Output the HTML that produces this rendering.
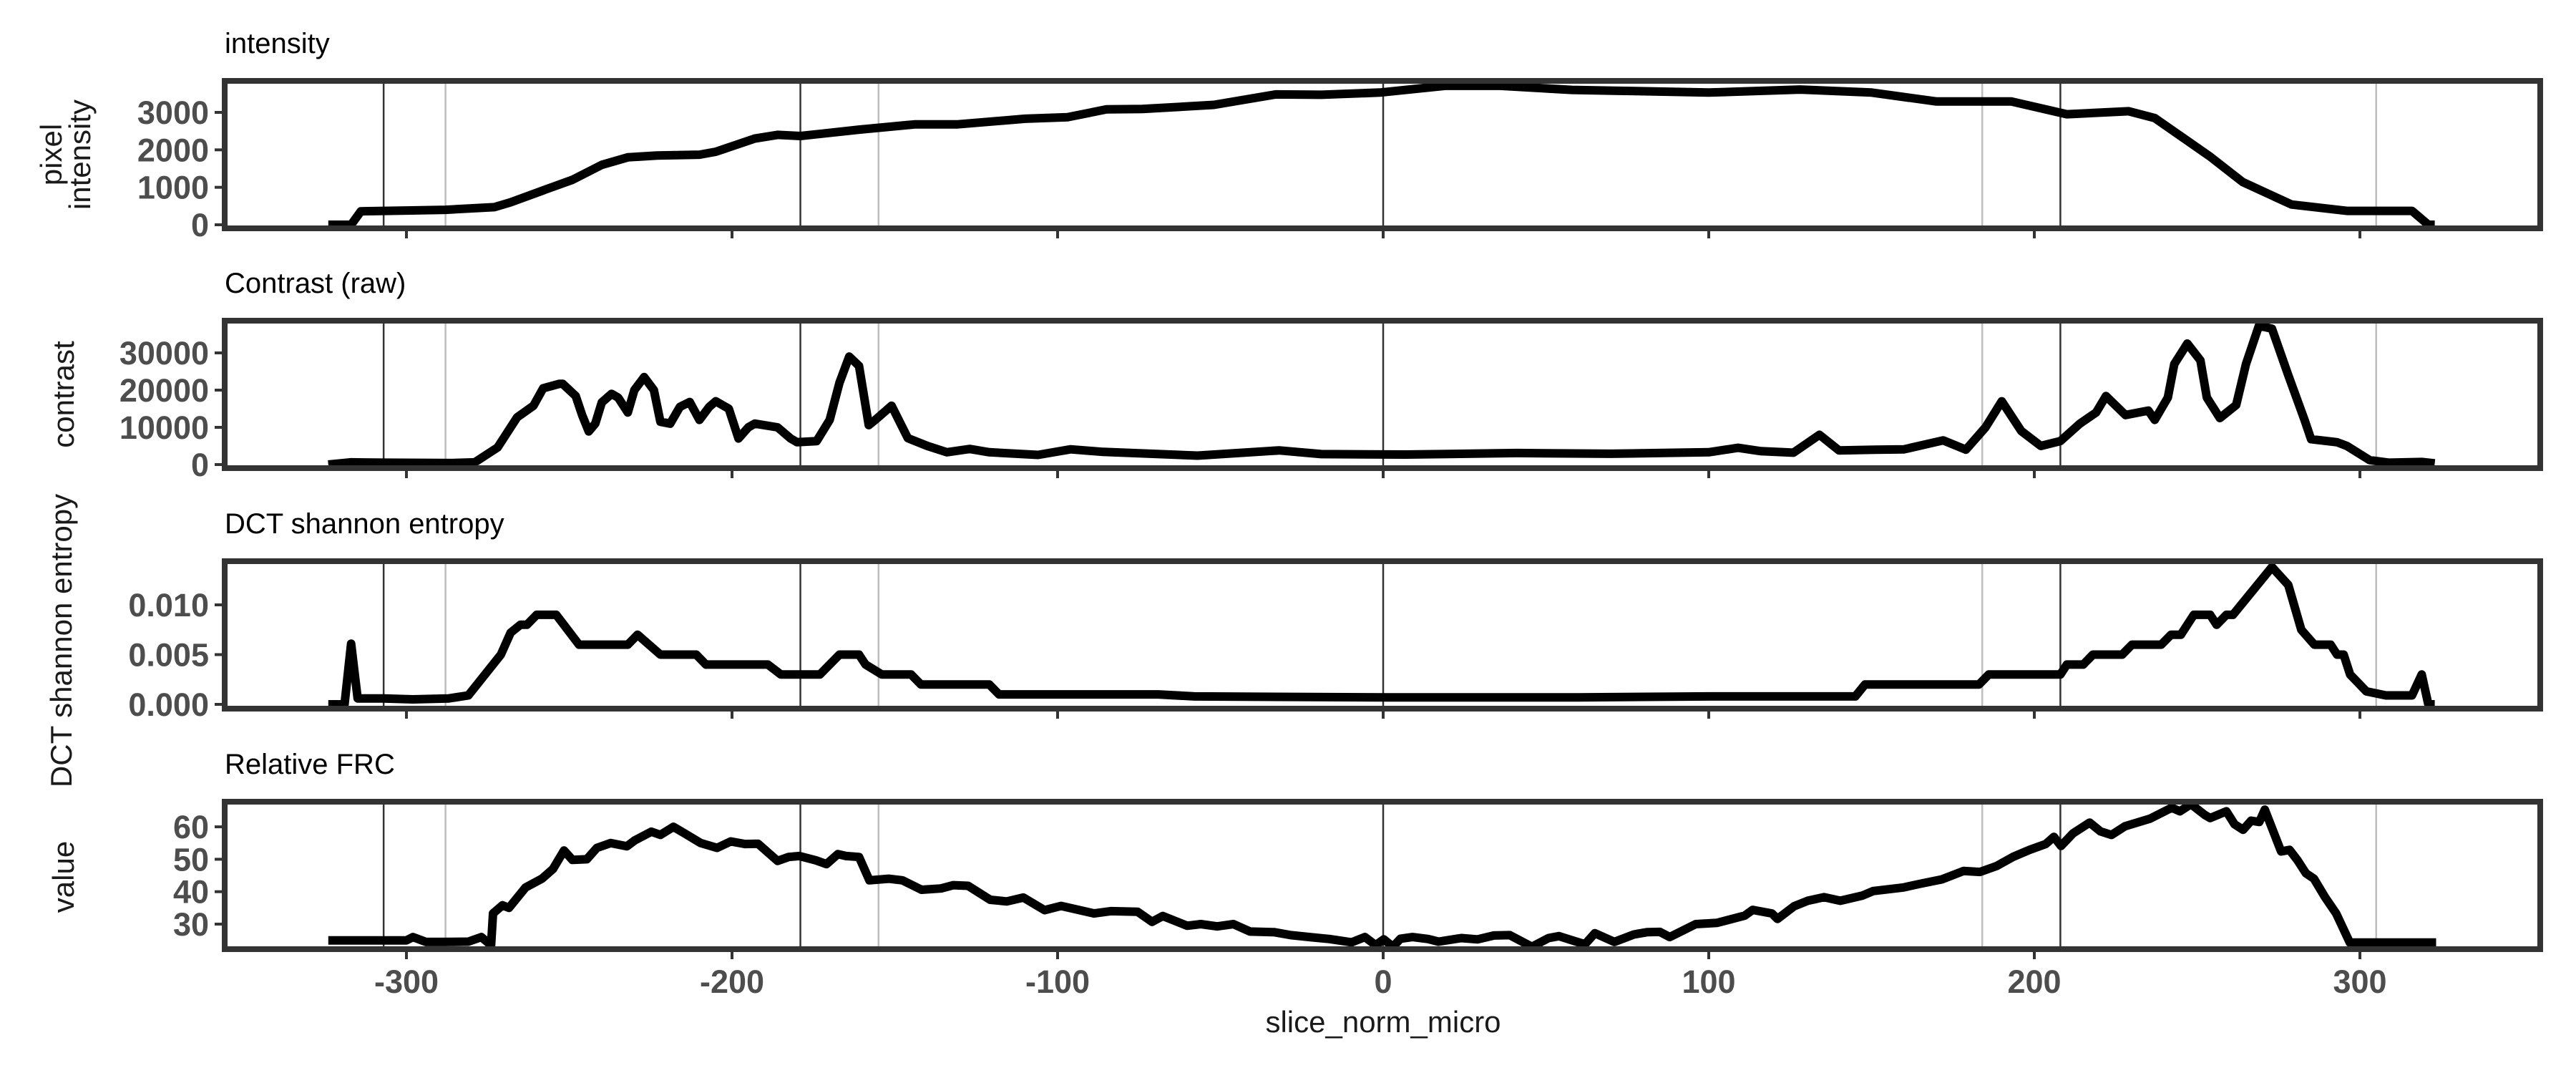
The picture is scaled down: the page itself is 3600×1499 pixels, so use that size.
<!DOCTYPE html>
<html><head><meta charset="utf-8"><style>
html,body{margin:0;padding:0;background:#fff;}
svg{display:block;}
text{font-family:"Liberation Sans",sans-serif;}
</style></head><body>
<svg id="chart" width="3600" height="1499" viewBox="0 0 3600 1499" xmlns="http://www.w3.org/2000/svg">
<rect width="3600" height="1499" fill="#fff"/>
<g id="layer"></g>
</svg>
<script>
// ---- data ----
const xTicks = [-300,-200,-100,0,100,200,300];
const darkLines = [-307,-179,0,208];
const greyLines = [-288,-155,184,305];
const intenX = [-324,-317,-314,-300,-288,-273,-268,-257,-249,-240,-232,-223,-210,-205,-193,-186,-179,-161,-144,-131,-110,-97,-85,-74,-52,-33,-19,-1,19,36,58,71,100,128,150,170,193,210,229,237,254,264,279,296,316,321,323];
const intenY = [0,0,360,380,400,470,600,950,1200,1600,1800,1850,1870,1950,2300,2400,2370,2540,2680,2680,2830,2870,3080,3090,3200,3480,3470,3530,3710,3710,3600,3580,3530,3610,3530,3290,3290,2950,3030,2850,1820,1140,540,370,370,0,0];
const contX = [-324,-317,-307,-286,-279,-272,-266,-261,-258,-253,-252,-248,-246,-244,-242,-240,-237,-235,-232,-230,-227,-224,-222,-219,-216,-213,-210,-207,-205,-201,-198,-195,-193,-186,-182,-180,-174,-170,-167,-164,-161,-158,-156,-151,-146,-140,-134,-127,-121,-106,-96,-86,-57,-32,-19,7,41,70,100,109,116,126,134,140,151,160,172,179,185,190,196,202,208,214,219,222,228,235,237,241,243,247,251,253,257,262,265,269,273,278,283,285,293,296,303,309,319,323];
const contY = [0,600,500,400,600,4600,12700,15800,20500,21700,21700,18400,13200,8900,11000,16700,19000,18000,14000,20000,23500,20000,11500,11000,15500,16800,12000,15500,17000,15000,7000,10000,11000,10000,7000,6000,6300,12000,22000,29000,26500,10600,12000,15800,7100,5000,3300,4200,3300,2600,4100,3400,2400,3800,2800,2700,3100,2900,3300,4500,3600,3200,8000,3800,4000,4100,6500,4000,10000,17000,9000,5000,6300,11000,14000,18400,13300,14500,12000,18000,27000,32500,28000,18000,12500,16000,27000,37300,36500,24000,12000,6800,6000,5000,1200,500,700,300];
const entX = [-324,-319,-317,-315,-307,-298,-287,-281,-271,-268,-265,-263,-260,-254,-247,-232,-229,-222,-211,-208,-189,-185,-173,-167,-161,-159,-154,-145,-142,-121,-118,-69,-58,0,60,100,145,148,183,186,208,210,215,218,227,230,239,242,245,249,254,256,259,261,273,278,282,286,291,293,295,297,302,308,316,319,321,323];
const entY = [0,0,0.0061,0.0006,0.0006,0.0005,0.0006,0.0009,0.005,0.0072,0.008,0.008,0.009,0.009,0.006,0.006,0.007,0.005,0.005,0.004,0.004,0.003,0.003,0.005,0.005,0.004,0.003,0.003,0.002,0.002,0.001,0.001,0.0008,0.0007,0.0007,0.0008,0.0008,0.002,0.002,0.003,0.003,0.004,0.004,0.005,0.005,0.006,0.006,0.007,0.007,0.009,0.009,0.008,0.009,0.009,0.0138,0.012,0.0075,0.006,0.006,0.005,0.005,0.003,0.0013,0.0009,0.0009,0.003,0,0];
const frcX = [-324,-300,-298,-294,-289,-281,-277,-274,-273.4,-270.5,-268.5,-263.4,-258.4,-255,-251.6,-249,-244.6,-241.5,-237.3,-232.3,-229.9,-224.8,-222,-218,-214.6,-209.6,-204.6,-200.4,-196,-192,-186,-182.6,-179.3,-174.3,-171,-167.5,-165,-161,-157.8,-151.9,-147.7,-141.8,-135.8,-132,-127.5,-120.7,-115.6,-110.5,-104,-98.9,-88.8,-83.7,-75.4,-71,-67.7,-60.2,-56,-51,-46,-40.9,-33.4,-28.4,-21.5,-16.5,-9.7,-5.6,-2.3,0.2,3,5.3,9,13.8,17,24,29,34,38.9,45.7,50.8,54,59,62,65,71,77,81,85,88,96,102.6,111,113.5,119.4,121.1,126.2,130.4,135.4,140.4,147.2,150.5,159.8,164.8,171.6,178.3,183.3,188.4,193.4,198.5,203.5,206,208.2,211.9,217,220.3,223.7,227.9,235.5,242.2,244.7,248.1,252.3,254,259,261.5,264.1,266.6,269.1,270.8,275.8,278.4,280.9,283.4,285.9,289.3,292.7,296.9,323.4];
const frcY = [25,25,26,24.5,24.5,24.6,26,23.5,33.3,35.8,35,41.3,44,47,52.7,49.8,50,53.5,55,54,55.8,58.5,57.5,60,58,55,53.5,55.5,54.7,54.8,49.5,50.7,51,49.7,48.5,51.6,51,50.7,43.5,44,43.5,40.6,41,42,41.8,37.5,37,38.2,34.3,35.6,33.3,34,33.8,30.7,32.5,29.5,30,29.3,30,27.7,27.5,26.6,25.9,25.4,24.4,26,23.5,25.3,23,25.5,26,25.4,24.6,25.7,25.3,26.5,26.6,23,25.7,26.3,24.7,23.8,27.2,24.5,26.8,27.5,27.6,26,30,30.4,32.6,34.4,33.3,31.6,35.5,37.2,38.3,37.2,38.8,40.2,41.3,42.4,43.8,46.4,46.1,47.9,50.7,52.9,54.7,56.9,54.1,58,61.3,58.6,57.5,60.2,62.5,65.9,64.8,67,63.7,62.7,64.8,60.8,59.1,61.9,61.5,65.3,52.4,52.9,49.6,45.7,44,38.3,33.3,24.3,24.3];
const t1 = [0,1000,2000,3000];
const t2 = [0,10000,20000,30000];
const t3 = [0,0.005,0.010];
const t3Labels = ["0.000","0.005","0.010"];
const t4 = [30,40,50,60];

// ---- layout ----
const NS="http://www.w3.org/2000/svg";
const L=314, R=3550;
const xs = v => 1933 + v*4.55;
const panels = [
 {name:"intensity", title:"intensity", top:113, bot:319, y:v=>314 - v*0.05233, ticks:t1, labels:t1.map(String), xv:intenX, yv:intenY},
 {name:"contrast", title:"Contrast (raw)", top:448, bot:654, y:v=>649 - v*0.0052, ticks:t2, labels:t2.map(String), xv:contX, yv:contY},
 {name:"entropy", title:"DCT shannon entropy", top:784, bot:990, y:v=>984 - v*13900, ticks:t3, labels:t3Labels, xv:entX, yv:entY},
 {name:"frc", title:"Relative FRC", top:1120, bot:1326, y:v=>1291 - (v-30)*4.53, ticks:t4, labels:t4.map(String), xv:frcX, yv:frcY}
];
const layer=document.getElementById('layer');
function mk(tag, attrs, parent){const e=document.createElementNS(NS,tag);for(const k in attrs)e.setAttribute(k,attrs[k]);(parent||layer).appendChild(e);return e;}

const defs=mk('defs',{});
panels.forEach((p,i)=>{
  const g=mk('g',{});
  
  
  const cp=mk('clipPath',{id:'clip'+i},defs);
  mk('rect',{x:L+4,y:p.top+4,width:R-L-8,height:p.bot-p.top-8},cp);
  const title=mk('text',{x:L,y:p.top-39,'font-size':40,fill:'#000'},g);
  title.textContent=p.title;
  
  
  greyLines.forEach(v=>{
    const ln=mk('line',{x1:xs(v),x2:xs(v),y1:p.top,y2:p.bot,stroke:'#bdbdbd','stroke-width':2.5},g);
    
    
  });
  darkLines.forEach(v=>{
    const ln=mk('line',{x1:xs(v),x2:xs(v),y1:p.top,y2:p.bot,stroke:'#333','stroke-width':2.5},g);
    
    
  });
  let d='';
  p.xv.forEach((xv,j)=>{d+=(j?'L':'M')+xs(xv).toFixed(1)+','+p.y(p.yv[j]).toFixed(1);});
  const path=mk('path',{d:d,fill:'none',stroke:'#000','stroke-width':12,'stroke-linejoin':'round','clip-path':'url(#clip'+i+')'},g);
  
  
  const fr=mk('rect',{x:L,y:p.top,width:R-L,height:p.bot-p.top,fill:'none',stroke:'#333','stroke-width':8},g);
  
  
  p.ticks.forEach((tv,j)=>{
    const y=p.y(tv);
    const tk=mk('line',{x1:L-14,x2:L,y1:y,y2:y,stroke:'#333','stroke-width':4},g);
    
    
    const tl=mk('text',{x:292,y:y+16,'text-anchor':'end','font-size':45,'font-weight':'bold',fill:'#4d4d4d'},g);
    tl.textContent=p.labels[j];
    
    
  });
  xTicks.forEach(tv=>{
    const tk=mk('line',{x1:xs(tv),x2:xs(tv),y1:p.bot,y2:p.bot+14,stroke:'#333','stroke-width':4},g);
    
    
    if(i===3){
      const tl=mk('text',{x:xs(tv),y:1387,'text-anchor':'middle','font-size':45,'font-weight':'bold',fill:'#4d4d4d'},g);
      tl.textContent=String(tv);
      
      
    }
  });
});
function ytitle(txt,x,y,name){
  const t=mk('text',{x:x,y:y,'text-anchor':'middle','font-size':42,fill:'#1a1a1a',transform:'rotate(-90 '+x+' '+y+')'});
  t.textContent=txt;
  
  
}
ytitle('pixel',86,216,'y-axis-title-intensity-line1');
ytitle('intensity',126,216,'y-axis-title-intensity-line2');
ytitle('contrast',103,551,'y-axis-title-contrast');
ytitle('DCT shannon entropy',100,895,'y-axis-title-entropy');
ytitle('value',103,1225,'y-axis-title-frc');
const xt=mk('text',{x:1933,y:1442,'text-anchor':'middle','font-size':42,fill:'#1a1a1a'});
xt.textContent='slice_norm_micro';


</script>
</body></html>
